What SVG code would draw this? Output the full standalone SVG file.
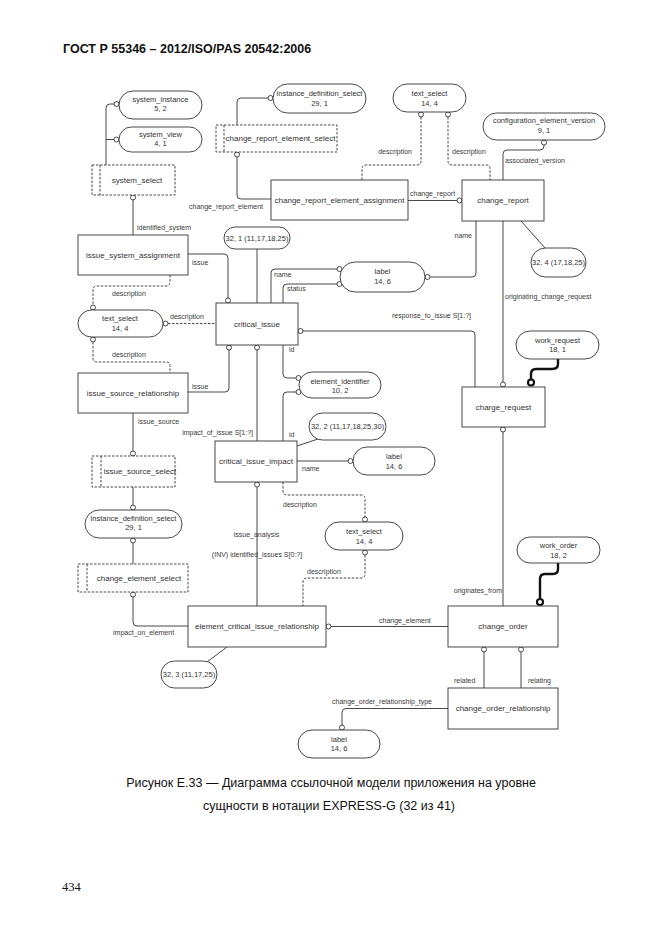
<svg xmlns="http://www.w3.org/2000/svg" width="662" height="935" viewBox="0 0 662 935">
<style>
.bx{fill:#fff;stroke:#333;stroke-width:0.9}
.sl{fill:#fff;stroke:#333;stroke-width:0.9;stroke-dasharray:2.5,1.5}
.sli{fill:none;stroke:#333;stroke-width:0.9;stroke-dasharray:2.5,1.5}
.ln{fill:none;stroke:#333;stroke-width:0.9}
.dl{fill:none;stroke:#333;stroke-width:0.9;stroke-dasharray:2.5,1.5}
.tk{fill:none;stroke:#111;stroke-width:2.4}
.c{fill:#fff;stroke:#333;stroke-width:0.9}
.ct{fill:#fff;stroke:#111;stroke-width:2.2}
.e{font-family:"Liberation Sans",Arial,sans-serif;font-size:8px;fill:#333;text-anchor:middle}
.o{font-family:"Liberation Sans",Arial,sans-serif;font-size:7.5px;fill:#333;text-anchor:middle}
.r{font-family:"Liberation Sans",Arial,sans-serif;font-size:7px;fill:#3a3a3a}
.re{font-family:"Liberation Sans",Arial,sans-serif;font-size:7px;fill:#3a3a3a;text-anchor:end}
.rm{font-family:"Liberation Sans",Arial,sans-serif;font-size:7px;fill:#3a3a3a;text-anchor:middle}
</style>
<rect width="662" height="935" fill="#fff"/>
<text x="63" y="53" font-family="Liberation Sans,Arial,sans-serif" font-size="12.5" font-weight="bold" fill="#111">ГОСТ Р 55346 – 2012/ISO/PAS 20542:2006</text>

<g id="connectors">
<path class="ln" d="M114,104 H110 Q106,104 106,108 V165"/>
<path class="ln" d="M114,139.5 H106"/>
<path class="ln" d="M133,200 V235"/>
<text class="r" x="137" y="229.5">identified_system</text>
<path class="ln" d="M188,254 H224 Q228,254 228,258 V298"/>
<text class="r" x="192" y="265">issue</text>
<path class="dl" d="M170,275 V282 Q170,286 166,286 H97 Q93,286 93,290 V305"/>
<text class="r" x="112" y="296">description</text>
<path class="dl" d="M168,323.5 H216"/>
<text class="r" x="170" y="319">description</text>
<path class="dl" d="M93,342 V358 Q93,362 97,362 H166 Q170,362 170,366 V373"/>
<text class="r" x="112" y="357">description</text>
<path class="ln" d="M229,350 V388 Q229,392 225,392 H188"/>
<text class="r" x="192" y="389">issue</text>
<path class="ln" d="M133,413 V451"/>
<text class="r" x="138" y="424">issue_source</text>
<path class="ln" d="M133,487 V505"/>
<path class="ln" d="M133,543 V564"/>
<path class="ln" d="M133,597 V622 Q133,626 137,626 H188"/>
<text class="r" x="113" y="635">impact_on_element</text>
<path class="ln" d="M331,626.5 H448"/>
<text class="r" x="379" y="623">change_element</text>
<path class="ln" d="M207,662 L227,647"/>
<path class="ln" d="M257,249 V303"/>
<path class="ln" d="M271,303 V273 Q271,269 275,269 H337"/>
<text class="r" x="274" y="277">name</text>
<path class="ln" d="M283,303 V288 Q283,284 287,284 H337"/>
<text class="r" x="287" y="291">status</text>
<path class="ln" d="M430,277 H472 Q476,277 476,273 V221"/>
<text class="re" x="472" y="238">name</text>
<path class="ln" d="M408,200.5 H457"/>
<text class="r" x="410" y="196">change_report</text>
<path class="ln" d="M237,157 V195 Q237,199 241,199 H271"/>
<text class="re" x="263" y="209">change_report_element</text>
<path class="ln" d="M268,98 H241 Q237,98 237,102 V125"/>
<path class="dl" d="M421,117 V161 Q421,165 417,165 H366 Q362,165 362,169 V180"/>
<text class="re" x="412" y="154">description</text>
<path class="dl" d="M448,117 V161 Q448,165 452,165 H486 Q490,165 490,169 V180"/>
<text class="r" x="452" y="154">description</text>
<path class="ln" d="M544,145 V146 Q544,150 540,150 H507 Q503,150 503,154 V180"/>
<text class="r" x="505" y="163">associated_version</text>
<path class="ln" d="M503,221 V382"/>
<text class="r" x="505" y="299">originating_change_request</text>
<path class="ln" d="M521,221 L545,248"/>
<path class="ln" d="M303,331 H471 Q475,331 475,335 V387"/>
<text class="r" x="392" y="318">response_to_issue S[1:?]</text>
<path class="tk" d="M558,359 V364 Q558,369 552,369 H536 Q531,369 531,374 V379"/>
<path class="ln" d="M503,432 V606"/>
<text class="re" x="502" y="593">originates_from</text>
<path class="ln" d="M283,345 V374 Q283,378 287,378 H296"/>
<text class="r" x="289" y="352">id</text>
<path class="ln" d="M296,392 H287 Q283,392 283,396 V441"/>
<text class="r" x="289" y="437">id</text>
<path class="ln" d="M257,350 V441"/>
<text class="re" x="253" y="435">impact_of_issue S[1:?]</text>
<path class="ln" d="M297,446 L318,439"/>
<path class="ln" d="M297,461 H348"/>
<text class="r" x="302" y="471">name</text>
<path class="ln" d="M257,487 V606"/>
<text class="rm" x="256.5" y="537">issue_analysis</text>
<text class="rm" x="257" y="557">(INV) identified_issues S[0:?]</text>
<path class="dl" d="M283,482 V491 Q283,495 287,495 H361 Q365,495 365,499 V517"/>
<text class="r" x="283" y="507">description</text>
<path class="dl" d="M365,555 V574 Q365,578 361,578 H307 Q303,578 303,582 V606"/>
<text class="r" x="307" y="574">description</text>
<path class="tk" d="M558,563 V569 Q558,574 553,574 H545 Q540,574 540,579 V598"/>
<path class="ln" d="M484,652 V688"/>
<path class="ln" d="M521,652 V688"/>
<text class="r" x="454" y="683">related</text>
<text class="r" x="528" y="683">relating</text>
<path class="ln" d="M448,708.5 H346 Q342,708.5 342,712.5 V725"/>
<text class="r" x="332" y="704">change_order_relationship_type</text>
<circle class="c" cx="116.5" cy="104" r="2.5"/>
<circle class="c" cx="116.5" cy="139.5" r="2.5"/>
<circle class="c" cx="133" cy="197.5" r="2.5"/>
<circle class="c" cx="228" cy="300.5" r="2.5"/>
<circle class="c" cx="93" cy="307.5" r="2.5"/>
<circle class="c" cx="165.5" cy="323.5" r="2.5"/>
<circle class="c" cx="93" cy="339.5" r="2.5"/>
<circle class="c" cx="229" cy="347.5" r="2.5"/>
<circle class="c" cx="257" cy="347.5" r="2.5"/>
<circle class="c" cx="133" cy="453.5" r="2.5"/>
<circle class="c" cx="133" cy="507.5" r="2.5"/>
<circle class="c" cx="133" cy="540.5" r="2.5"/>
<circle class="c" cx="133" cy="594.5" r="2.5"/>
<circle class="c" cx="328.5" cy="626.5" r="2.5"/>
<circle class="c" cx="339.5" cy="269" r="2.5"/>
<circle class="c" cx="339.5" cy="284" r="2.5"/>
<circle class="c" cx="427.5" cy="277" r="2.5"/>
<circle class="c" cx="459.5" cy="200.5" r="2.5"/>
<circle class="c" cx="237" cy="154.5" r="2.5"/>
<circle class="c" cx="270.5" cy="98" r="2.5"/>
<circle class="c" cx="421" cy="114.5" r="2.5"/>
<circle class="c" cx="448" cy="114.5" r="2.5"/>
<circle class="c" cx="544" cy="142.5" r="2.5"/>
<circle class="c" cx="503" cy="384.5" r="2.5"/>
<circle class="c" cx="300.5" cy="331" r="2.5"/>
<circle class="c" cx="503" cy="429.5" r="2.5"/>
<circle class="c" cx="298.5" cy="378" r="2.5"/>
<circle class="c" cx="298.5" cy="392" r="2.5"/>
<circle class="c" cx="350.5" cy="461" r="2.5"/>
<circle class="c" cx="257" cy="484.5" r="2.5"/>
<circle class="c" cx="365" cy="519.5" r="2.5"/>
<circle class="c" cx="365" cy="552.5" r="2.5"/>
<circle class="c" cx="484" cy="649.5" r="2.5"/>
<circle class="c" cx="521" cy="649.5" r="2.5"/>
<circle class="c" cx="342" cy="727.5" r="2.5"/>
<circle class="ct" cx="531" cy="382.5" r="3"/>
<circle class="ct" cx="540" cy="602" r="3"/>
</g>

<g id="system_instance"><rect class="bx" x="119" y="91" width="83" height="28" rx="14"/><text class="o" x="160.5" y="101.5">system_instance</text><text class="o" x="160.5" y="111">5, 2</text></g>
<g id="system_view"><rect class="bx" x="119" y="127" width="83" height="25" rx="12.5"/><text class="o" x="160.5" y="137">system_view</text><text class="o" x="160.5" y="146">4, 1</text></g>
<g id="system_select"><rect class="sl" x="92" y="165" width="83" height="30"/><line class="sli" x1="100" y1="165" x2="100" y2="195"/><text class="e" x="137" y="182.8">system_select</text></g>
<g id="issue_system_assignment"><rect class="bx" x="78" y="235" width="110" height="40"/><text class="e" x="133" y="257.8">issue_system_assignment</text></g>
<g id="text_select_1"><rect class="bx" x="78" y="310" width="85" height="27" rx="13.5"/><text class="o" x="120" y="321">text_select</text><text class="o" x="120" y="330.5">14, 4</text></g>
<g id="issue_source_relationship"><rect class="bx" x="78" y="373" width="110" height="40"/><text class="e" x="133" y="395.8">issue_source_relationship</text></g>
<g id="issue_source_select"><rect class="sl" x="92" y="456" width="83" height="31"/><line class="sli" x1="101" y1="456" x2="101" y2="487"/><text class="e" x="140" y="474">issue_source_select</text></g>
<g id="instance_definition_select_2"><rect class="bx" x="85" y="510" width="97" height="28" rx="14"/><text class="o" x="133.5" y="520.5">instance_definition_select</text><text class="o" x="133.5" y="530">29, 1</text></g>
<g id="change_element_select"><rect class="sl" x="78" y="564" width="110" height="28"/><line class="sli" x1="87" y1="564" x2="87" y2="592"/><text class="e" x="139" y="580.8">change_element_select</text></g>
<g id="element_critical_issue_relationship"><rect class="bx" x="188" y="606" width="138" height="41"/><text class="e" x="257" y="629.3">element_critical_issue_relationship</text></g>
<g id="n32_3"><rect class="bx" x="161" y="661" width="56" height="27" rx="13.5"/><text class="o" x="189" y="677.2">32, 3 (11,17,25)</text></g>
<g id="instance_definition_select_1"><rect class="bx" x="273" y="84" width="93" height="29" rx="14.5"/><text class="o" x="319.5" y="95.5">instance_definition_select</text><text class="o" x="319.5" y="105.5">29, 1</text></g>
<g id="change_report_element_select"><rect class="sl" x="216" y="125" width="121" height="27"/><line class="sli" x1="224" y1="125" x2="224" y2="152"/><text class="e" x="280.5" y="141.3">change_report_element_select</text></g>
<g id="change_report_element_assignment"><rect class="bx" x="271" y="180" width="137" height="40"/><text class="e" x="339.5" y="202.8">change_report_element_assignment</text></g>
<g id="text_select_2"><rect class="bx" x="393" y="84" width="73" height="28" rx="14"/><text class="o" x="429.5" y="95.5">text_select</text><text class="o" x="429.5" y="105.5">14, 4</text></g>
<g id="configuration_element_version"><rect class="bx" x="483" y="113" width="122" height="27" rx="13.5"/><text class="o" x="544" y="123">configuration_element_version</text><text class="o" x="544" y="132.5">9, 1</text></g>
<g id="change_report"><rect class="bx" x="462" y="180" width="82" height="41"/><text class="e" x="503" y="203.3">change_report</text></g>
<g id="n32_4"><rect class="bx" x="531" y="248" width="55" height="29" rx="14.5"/><text class="o" x="558.5" y="265">32, 4 (17,18,25)</text></g>
<g id="n32_1"><rect class="bx" x="224" y="227" width="66" height="22" rx="11"/><text class="o" x="257" y="240.6">32, 1 (11,17,18,25)</text></g>
<g id="label_1"><rect class="bx" x="340" y="262" width="85" height="30" rx="15"/><text class="o" x="382.5" y="273.5">label</text><text class="o" x="382.5" y="284">14, 6</text></g>
<g id="critical_issue"><rect class="bx" x="216" y="303" width="82" height="42"/><text class="e" x="257" y="326.8">critical_issue</text></g>
<g id="work_request"><rect class="bx" x="516" y="331" width="83" height="28" rx="14"/><text class="o" x="557.5" y="342.5">work_request</text><text class="o" x="557.5" y="352">18, 1</text></g>
<g id="charge_request"><rect class="bx" x="462" y="387" width="83" height="40"/><text class="e" x="503.5" y="409.8">charge_request</text></g>
<g id="element_identifier"><rect class="bx" x="299" y="372" width="82" height="26" rx="13"/><text class="o" x="340" y="384">element_identifier</text><text class="o" x="340" y="393">10, 2</text></g>
<g id="n32_2"><rect class="bx" x="309" y="413" width="77" height="27" rx="13.5"/><text class="o" x="347.5" y="429">32, 2 (11,17,18,25,30)</text></g>
<g id="critical_issue_impact"><rect class="bx" x="215" y="441" width="82" height="41"/><text class="e" x="256" y="464.3">critical_issue_impact</text></g>
<g id="label_2"><rect class="bx" x="353" y="447" width="82" height="28" rx="14"/><text class="o" x="394" y="459">label</text><text class="o" x="394" y="468.5">14, 6</text></g>
<g id="text_select_3"><rect class="bx" x="325" y="522" width="78" height="28" rx="14"/><text class="o" x="364" y="534">text_select</text><text class="o" x="364" y="544">14, 4</text></g>
<g id="work_order"><rect class="bx" x="517" y="537" width="83" height="26" rx="13"/><text class="o" x="558.5" y="548">work_order</text><text class="o" x="558.5" y="557.5">18, 2</text></g>
<g id="change_order"><rect class="bx" x="448" y="606" width="110" height="41"/><text class="e" x="503" y="629.3">change_order</text></g>
<g id="change_order_relationship"><rect class="bx" x="448" y="688" width="110" height="41"/><text class="e" x="503" y="711.3">change_order_relationship</text></g>
<g id="label_3"><rect class="bx" x="298" y="730" width="82" height="28" rx="14"/><text class="o" x="339" y="741.5">label</text><text class="o" x="339" y="751">14, 6</text></g>

<text x="331" y="787" font-family="Liberation Sans,Arial,sans-serif" font-size="12.5" fill="#111" text-anchor="middle">Рисунок Е.33 — Диаграмма ссылочной модели приложения на уровне</text>
<text x="329" y="810" font-family="Liberation Sans,Arial,sans-serif" font-size="12.5" fill="#111" text-anchor="middle">сущности в нотации EXPRESS-G (32 из 41)</text>
<text x="62" y="891" font-family="Liberation Serif,Times New Roman,serif" font-size="12.5" fill="#111">434</text>
</svg>
